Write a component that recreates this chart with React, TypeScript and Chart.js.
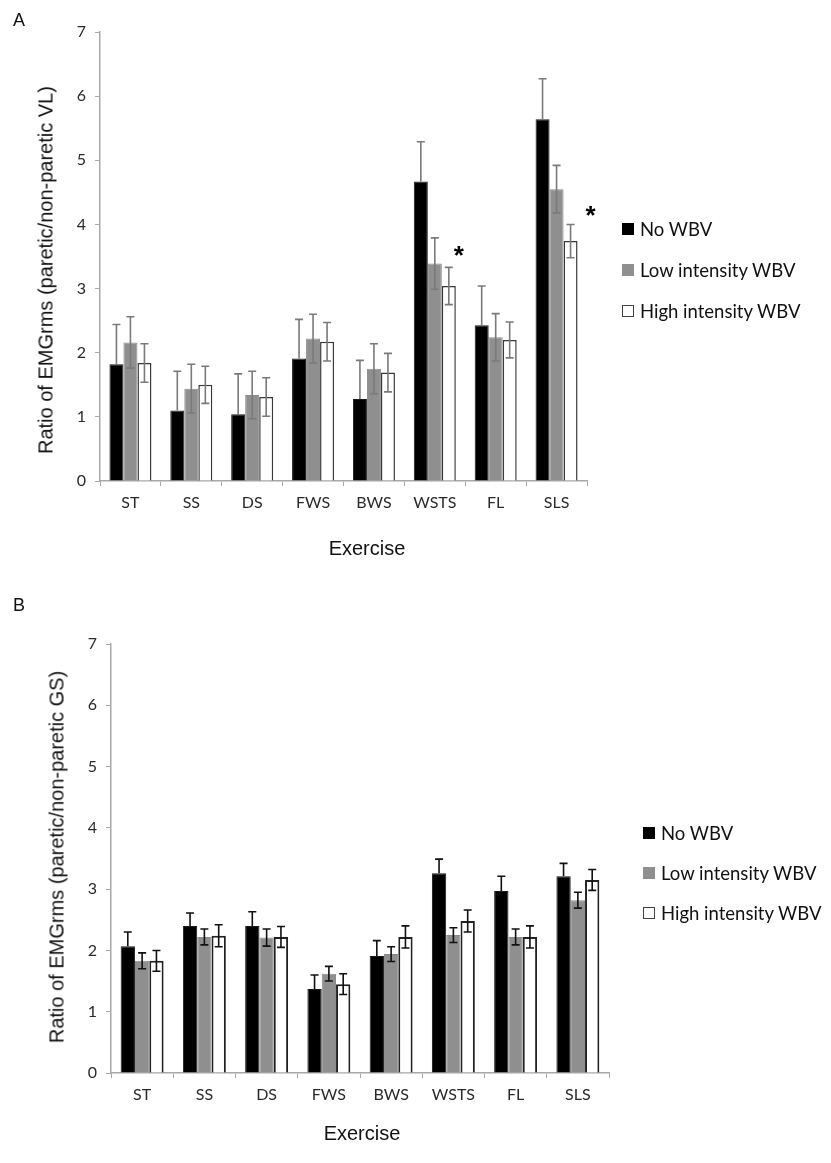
import React, { useEffect, useRef } from "react";
import { Chart, registerables } from "chart.js";

Chart.register(...registerables);

const categories = ["ST", "SS", "DS", "FWS", "BWS", "WSTS", "FL", "SLS"];
const seriesNames = ["No WBV", "Low intensity WBV", "High intensity WBV"];
const yTicks = [0, 1, 2, 3, 4, 5, 6, 7];

// Panel A: VL
const vlNo = [1.82, 1.1, 1.04, 1.91, 1.28, 4.67, 2.43, 5.64];
const vlNoErr = [0.62, 0.61, 0.63, 0.61, 0.6, 0.62, 0.61, 0.63];
const vlLow = [2.16, 1.44, 1.34, 2.22, 1.75, 3.39, 2.24, 4.55];
const vlLowErr = [0.4, 0.38, 0.37, 0.38, 0.39, 0.4, 0.37, 0.37];
const vlHigh = [1.84, 1.5, 1.31, 2.17, 1.69, 3.04, 2.2, 3.74];
const vlHighErr = [0.3, 0.29, 0.3, 0.3, 0.3, 0.29, 0.28, 0.26];
const vlStarIndex = [5, 7];
const vlStarLevel = [3.6, 4.22];

// Panel B: GS
const gsNo = [2.07, 2.4, 2.4, 1.37, 1.91, 3.26, 2.97, 3.21];
const gsNoErr = [0.23, 0.21, 0.23, 0.23, 0.25, 0.23, 0.24, 0.21];
const gsLow = [1.83, 2.22, 2.21, 1.62, 1.94, 2.25, 2.22, 2.82];
const gsLowErr = [0.13, 0.13, 0.14, 0.12, 0.12, 0.12, 0.13, 0.13];
const gsHigh = [1.83, 2.24, 2.22, 1.45, 2.22, 2.48, 2.22, 3.15];
const gsHighErr = [0.17, 0.18, 0.17, 0.17, 0.18, 0.18, 0.18, 0.17];

const errorBarPlugin = {
  id: "errorBars",
  afterDatasetsDraw(chart: any, _args: any, opts: any) {
    const ctx = chart.ctx;
    const yScale = chart.scales.y;
    ctx.save();
    ctx.strokeStyle = opts.color || "#000";
    ctx.lineWidth = opts.width || 1.5;
    chart.data.datasets.forEach((ds: any, i: number) => {
      const meta = chart.getDatasetMeta(i);
      meta.data.forEach((el: any, j: number) => {
        const v = ds.data[j];
        const e = ds.errors[j];
        const yt = yScale.getPixelForValue(v + e);
        const yb = yScale.getPixelForValue(v - e);
        const yv = yScale.getPixelForValue(v);
        const cw = opts.cap || 4;
        ctx.beginPath();
        ctx.moveTo(el.x, yt);
        ctx.moveTo(el.x - cw, yt);
        ctx.lineTo(el.x + cw, yt);
        ctx.moveTo(el.x, yt);
        if (i === 0) {
          ctx.lineTo(el.x, yv);
        } else {
          ctx.lineTo(el.x, yb);
          ctx.moveTo(el.x - cw, yb);
          ctx.lineTo(el.x + cw, yb);
        }
        ctx.stroke();
      });
    });
    ctx.restore();
  },
};

const starPlugin = {
  id: "stars",
  afterDatasetsDraw(chart: any, _args: any, opts: any) {
    if (!opts || !opts.index) return;
    const ctx = chart.ctx;
    const yScale = chart.scales.y;
    const meta = chart.getDatasetMeta(2);
    ctx.save();
    ctx.fillStyle = "#000";
    ctx.font = "bold 26px 'Liberation Sans'";
    ctx.textAlign = "center";
    ctx.textBaseline = "middle";
    opts.index.forEach((idx: number, k: number) => {
      const el = meta.data[idx];
      const y = yScale.getPixelForValue(opts.level[k]);
      ctx.fillText("*", el.x + opts.dx[k], y + 7);
    });
    ctx.restore();
  },
};

type PanelProps = {
  top: number;
  height: number;
  areaTop: number;
  areaBottom: number;
  areaLeft: number;
  areaRight: number;
  data: number[][];
  errors: number[][];
  errColor: string;
  whiteBorder: string;
  whiteBorderWidth: number;
  stars?: any;
};

function BarPanel(p: PanelProps) {
  const ref = useRef<HTMLCanvasElement | null>(null);
  useEffect(() => {
    if (!ref.current) return;
    const tickFont = { family: "Lato", size: 16 };
    const fills = ["#000000", "#8f8f8f", "#ffffff"];
    const borders = ["#1a1a1a", "#8a8a8a", p.whiteBorder];
    const bw = [1, 1, p.whiteBorderWidth];
    const chart = new Chart(ref.current, {
      type: "bar",
      data: {
        labels: categories,
        datasets: seriesNames.map((name, i) => ({
          label: name,
          data: p.data[i],
          errors: p.errors[i],
          backgroundColor: fills[i],
          borderColor: borders[i],
          borderWidth: bw[i],
          barPercentage: 1.0,
          categoryPercentage: 0.69,
        })) as any,
      },
      options: {
        responsive: false,
        animation: false,
        events: [],
        layout: {
          padding: {
            top: p.areaTop,
            right: 831 - p.areaRight,
            left: 0,
            bottom: 0,
          },
        },
        plugins: {
          legend: { display: false },
          tooltip: { enabled: false },
          errorBars: { color: p.errColor, width: 1.6, cap: 4 },
          stars: p.stars || {},
        } as any,
        scales: {
          x: {
            grid: {
              offset: true,
              drawOnChartArea: false,
              tickLength: 5,
              color: "#a8a8a8",
            },
            border: { color: "#a8a8a8", width: 1.5 },
            ticks: { font: tickFont, color: "#2a2a2a", padding: 7 },
            afterFit: (s: any) => {
              s.height = p.height - p.areaBottom;
            },
          },
          y: {
            min: 0,
            max: 7,
            afterBuildTicks: (s: any) => {
              s.ticks = yTicks.map((v) => ({ value: v }));
            },
            ticks: { font: tickFont, color: "#2a2a2a", padding: 9 },
            grid: { drawOnChartArea: false, tickLength: 5, color: "#a8a8a8" },
            border: { color: "#a8a8a8", width: 1.5 },
            afterFit: (s: any) => {
              s.width = p.areaLeft;
            },
          },
        },
      },
      plugins: [errorBarPlugin, starPlugin],
    });
    return () => chart.destroy();
  }, []);
  return (
    <canvas
      ref={ref}
      width={831}
      height={p.height}
      style={{ position: "absolute", left: 0, top: p.top, display: "block" }}
    />
  );
}

function Legend({ left, top, gap }: { left: number; top: number; gap: number }) {
  const sq = [
    { background: "#000", border: "1px solid #000" },
    { background: "#8f8f8f", border: "1px solid #8f8f8f" },
    { background: "#fff", border: "1.5px solid #444" },
  ];
  return (
    <>
      {seriesNames.map((n, i) => (
        <div
          key={n}
          style={{
            position: "absolute",
            left,
            top: top + i * gap - 12,
            height: 24,
            display: "flex",
            alignItems: "center",
            fontFamily: "Lato",
            fontSize: 18.5,
            color: "#111",
            whiteSpace: "nowrap",
          }}
        >
          <div
            style={{
              width: 12,
              height: 12,
              boxSizing: "border-box",
              marginRight: 6,
              ...sq[i],
            }}
          />
          <span>{n}</span>
        </div>
      ))}
    </>
  );
}

const titleFont: React.CSSProperties = {
  position: "absolute",
  fontFamily: "'Liberation Sans', Arial, sans-serif",
  fontSize: 20,
  color: "#111",
  whiteSpace: "nowrap",
};

function VTitle({ x, y, text }: { x: number; y: number; text: string }) {
  return (
    <div
      style={{
        ...titleFont,
        left: x,
        top: y,
        transform: "translate(-50%, -50%) rotate(-90deg)",
      }}
    >
      {text}
    </div>
  );
}

function HTitle({ x, y, text, size }: { x: number; y: number; text: string; size?: number }) {
  return (
    <div
      style={{
        ...titleFont,
        fontSize: size || 20,
        left: x,
        top: y,
        transform: "translate(-50%, -50%)",
      }}
    >
      {text}
    </div>
  );
}

export default function App() {
  return (
    <div
      style={{
        position: "fixed",
        left: 0,
        top: 0,
        width: 831,
        height: 1163,
        background: "#fff",
        overflow: "hidden",
      }}
    >
      <BarPanel
        top={0}
        height={580}
        areaTop={32}
        areaBottom={481}
        areaLeft={100}
        areaRight={587}
        data={[vlNo, vlLow, vlHigh]}
        errors={[vlNoErr, vlLowErr, vlHighErr]}
        errColor="#7a7a7a"
        whiteBorder="#3a3a3a"
        whiteBorderWidth={1.5}
        stars={{ index: vlStarIndex, level: vlStarLevel, dx: [10, 20] }}
      />
      <BarPanel
        top={580}
        height={583}
        areaTop={64}
        areaBottom={493}
        areaLeft={111}
        areaRight={609}
        data={[gsNo, gsLow, gsHigh]}
        errors={[gsNoErr, gsLowErr, gsHighErr]}
        errColor="#111"
        whiteBorder="#222"
        whiteBorderWidth={2}
      />
      <HTitle x={19} y={20} text="A" size={18} />
      <HTitle x={19} y={605} text="B" size={18} />
      <VTitle x={46} y={270} text="Ratio of EMGrms (paretic/non-paretic VL)" />
      <VTitle x={57} y={857} text="Ratio of EMGrms (paretic/non-paretic GS)" />
      <HTitle x={367} y={548} text="Exercise" />
      <HTitle x={362} y={1133} text="Exercise" />
      <Legend left={622} top={229} gap={41} />
      <Legend left={643} top={833} gap={40} />
    </div>
  );
}
